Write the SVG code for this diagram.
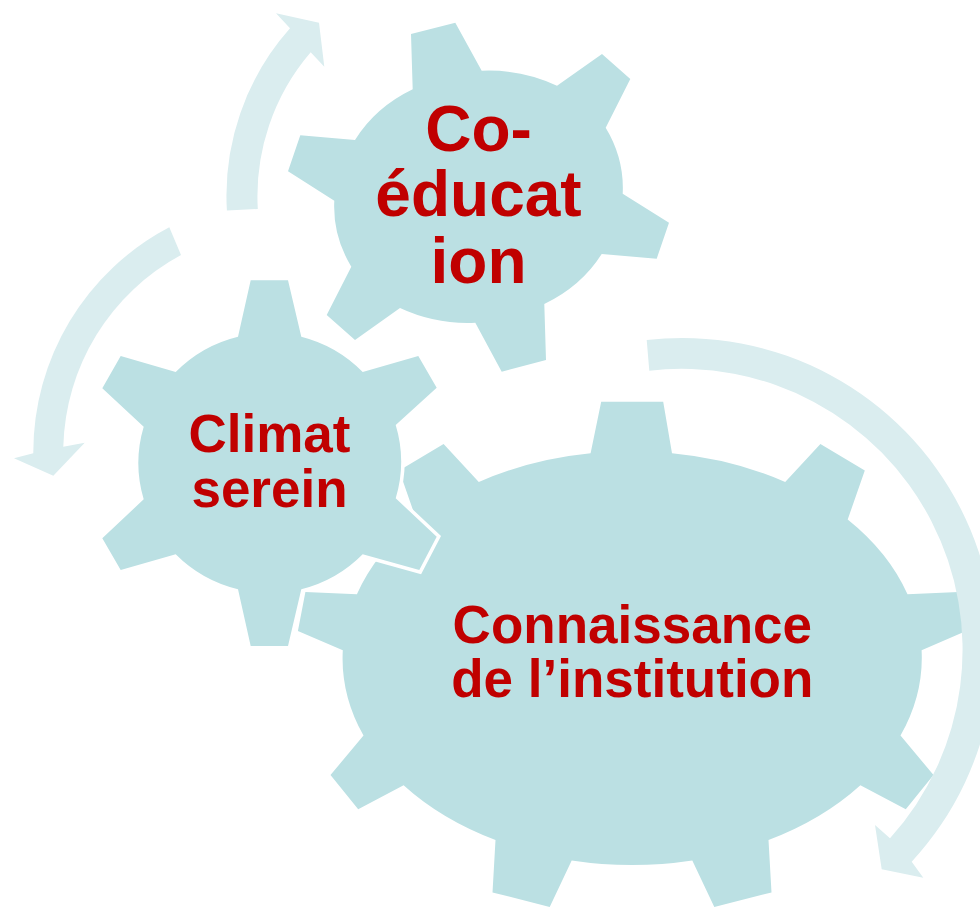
<svg xmlns="http://www.w3.org/2000/svg" width="980" height="907" viewBox="0 0 980 907">
<style>
.gear{fill:#BBE0E3;stroke:none}
.halo{fill:#FFFFFF;stroke:#FFFFFF;stroke-width:7;stroke-linejoin:miter}
.arrow{fill:#DAEDEF;stroke:none}
.lbl{font-family:"Liberation Sans",Arial,sans-serif;font-weight:bold;fill:#C00000;text-anchor:middle}
</style>
<g id="gear-connaissance">
<path class="gear" d="M590.6,453.3 L601.2,401.8 L663.2,401.8 L672,453.3 A290 207 0 0 1 785.2,482 L820.4,444.1 L864.8,470.6 L847.7,519.5 A290 207 0 0 1 907.5,594.3 L958.6,592 L966.1,631 L921.6,650.2 A290 207 0 0 1 900.5,735.6 L933.5,775 L905.8,809.2 L860.4,785.3 A290 207 0 0 1 768.5,840.1 L771.5,892.4 L714.3,907 L692.3,860.4 A290 207 0 0 1 571.7,860.4 L549.7,907 L492.5,892.4 L495.5,840.1 A290 207 0 0 1 403.6,785.3 L358.2,809.2 L330.5,775 L363.5,735.6 A290 207 0 0 1 342.8,650.2 L297.9,631 L305.4,592 L356.9,594.3 A290 207 0 0 1 416.3,519.5 L399.2,470.6 L443.6,444.1 L478.8,482 A290 207 0 0 1 590.6,453.3 Z"/>
<text class="lbl" x="632.3" y="642.8" font-size="53">Connaissance</text>
<text class="lbl" x="632.3" y="697.3" font-size="53">de l’institution</text>
</g>
<g id="gear-coeducation">
<path class="gear" d="M412.7,89.3 L411,34 L455.3,22.7 L481.7,70.7 A145 128 0 0 1 557,85.7 L602,54 L630.3,79 L605.7,127.7 A145 128 0 0 1 622.7,193.7 L669,222.7 L656.7,258.7 L601.7,254 A145 128 0 0 1 544.3,304 L546,360 L501.7,371.7 L475.3,322.7 A145 128 0 0 1 400,308 L355,340 L326.7,315 L351.3,266.7 A145 128 0 0 1 334.3,200.7 L288,171.3 L300.3,135.3 L355,140 A145 128 0 0 1 412.7,89.3 Z"/>
<text class="lbl" x="478.5" y="150.7" font-size="64">Co-</text>
<text class="lbl" x="478.5" y="216" font-size="64">éducat</text>
<text class="lbl" x="478.5" y="282.7" font-size="64">ion</text>
</g>
<g id="gear-climat">
<path class="halo" d="M238,336.7 L250.7,280.3 L288,280.3 L301.3,336.7 A131 129 0 0 1 362.7,372 L418.3,356 L436.7,387.7 L395.7,425 A131 129 0 0 1 395.7,498.3 L436.7,536.7 L419.3,570 L362.7,554.3 A131 129 0 0 1 301.3,589.3 L288,646 L250.7,646 L238,589.3 A131 129 0 0 1 175.7,554.3 L120.7,570 L102.3,538.3 L143.7,499.3 A131 129 0 0 1 143.7,426.7 L102.3,388.3 L120.7,356 L175.7,372 A131 129 0 0 1 238,336.7 Z"/>
<path class="gear" d="M238,336.7 L250.7,280.3 L288,280.3 L301.3,336.7 A131 129 0 0 1 362.7,372 L418.3,356 L436.7,387.7 L395.7,425 A131 129 0 0 1 395.7,498.3 L436.7,536.7 L419.3,570 L362.7,554.3 A131 129 0 0 1 301.3,589.3 L288,646 L250.7,646 L238,589.3 A131 129 0 0 1 175.7,554.3 L120.7,570 L102.3,538.3 L143.7,499.3 A131 129 0 0 1 143.7,426.7 L102.3,388.3 L120.7,356 L175.7,372 A131 129 0 0 1 238,336.7 Z"/>
<text class="lbl" x="269.5" y="451.7" font-size="53">Climat</text>
<text class="lbl" x="269.5" y="506.7" font-size="53">serein</text>
</g>
<g id="connectors">
<path class="arrow" d="M226.9,210.6 A252 252 0 0 1 290,28.3 L276,13.3 L319,22.7 L324.3,66.7 L310.7,52.3 A221 221 0 0 0 257.8,209 Z"/>
<path class="arrow" d="M169.3,227.3 A254 254 0 0 0 33.3,453.3 L14,458.3 L53.3,475.7 L84.7,442.7 L63.3,446.7 A224 224 0 0 1 181,255 Z"/>
<path class="arrow" d="M646.7,340 A312 312 0 0 1 911.7,861.7 L923.3,877.7 L881.7,869.3 L875,825 L890,838.3 A281 281 0 0 0 649.3,370.7 Z"/>
</g>
</svg>
